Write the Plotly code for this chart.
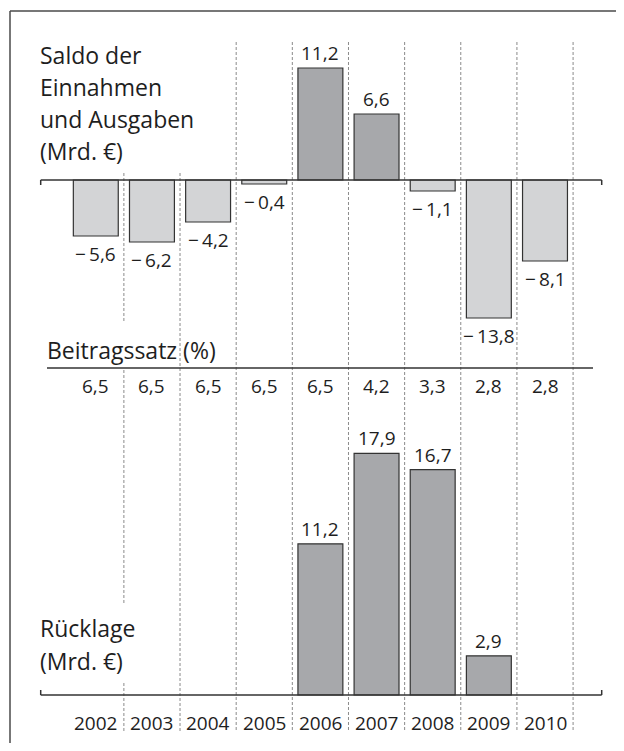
import plotly.graph_objects as go

# ---- data ----
years = [2002, 2003, 2004, 2005, 2006, 2007, 2008, 2009, 2010]
saldo = [-5.6, -6.2, -4.2, -0.4, 11.2, 6.6, -1.1, -13.8, -8.1]
beitragssatz = [6.5, 6.5, 6.5, 6.5, 6.5, 4.2, 3.3, 2.8, 2.8]
ruecklage = [None, None, None, None, 11.2, 17.9, 16.7, 2.9, None]

title_saldo = ["Saldo der", "Einnahmen", "und Ausgaben", "(Mrd. €)"]
title_rate = "Beitragssatz (%)"
title_reserve = ["Rücklage", "(Mrd. €)"]

# ---- layout geometry (page pixels; the page body has an 8px margin) ----
OFF = 8
W, H = 624 - 2 * OFF, 751 - 2 * OFF
X0_PX, STEP_PX = 95.8, 56.15          # page pixel centre of first year, pixels per year
r0 = years[0] - (X0_PX - OFF) / STEP_PX
r1 = r0 + W / STEP_PX
TOP_ZERO, TOP_K = 180, 10.0            # zero line page pixel, pixels per unit
BOT_ZERO, BOT_K = 695, 13.5

def px(p):
    return (p - OFF) / W

def py(p):
    return 1 - (p - OFF) / H

DARK = "#a7a8ab"
LIGHT = "#d3d4d6"
EDGE = "#333333"
TXT = "#1e1e1e"
FONT = "Open Sans"

def fmt(v):
    s = f"{abs(v):.1f}".replace(".", ",")
    return ("\u2212\u2009" + s) if v < 0 else s

fig = go.Figure()
fig.add_trace(go.Bar(
    x=years, y=saldo, yaxis="y", width=0.8,
    marker=dict(color=[DARK if v > 0 else LIGHT for v in saldo],
                line=dict(color=EDGE, width=1.2)),
    hoverinfo="skip", showlegend=False))
fig.add_trace(go.Bar(
    x=years, y=ruecklage, yaxis="y2", width=0.8,
    marker=dict(color=DARK, line=dict(color=EDGE, width=1.2)),
    hoverinfo="skip", showlegend=False))

shapes = []
line_dark = dict(color="#333333", width=1.5)
# frame (left + top)
shapes.append(dict(type="line", xref="paper", yref="paper", x0=px(10), x1=1.0, y0=py(11), y1=py(11),
                   line=dict(color="#4a4a4a", width=1.5)))
shapes.append(dict(type="line", xref="paper", yref="paper", x0=px(10), x1=px(10), y0=py(11), y1=0.0,
                   line=dict(color="#4a4a4a", width=1.5)))
# top zero axis with end ticks
shapes.append(dict(type="line", xref="paper", yref="paper", x0=px(40.7), x1=px(601.7),
                   y0=py(TOP_ZERO), y1=py(TOP_ZERO), line=line_dark))
for xp in (40.7, 601.7):
    shapes.append(dict(type="line", xref="paper", yref="paper", x0=px(xp), x1=px(xp),
                       y0=py(TOP_ZERO), y1=py(TOP_ZERO + 5), line=line_dark))
# bottom baseline with end ticks
shapes.append(dict(type="line", xref="paper", yref="paper", x0=px(40.7), x1=px(601.7),
                   y0=py(BOT_ZERO), y1=py(BOT_ZERO), line=line_dark))
for xp in (40.7, 601.7):
    shapes.append(dict(type="line", xref="paper", yref="paper", x0=px(xp), x1=px(xp),
                       y0=py(BOT_ZERO), y1=py(BOT_ZERO - 5), line=line_dark))
# Beitragssatz rule
shapes.append(dict(type="line", xref="paper", yref="paper", x0=px(47), x1=px(593),
                   y0=py(368), y1=py(368), line=line_dark))
# dashed separators between years
dash = dict(color="#8a8a8a", width=1, dash="3px,2px")
for i, yr in enumerate(years):
    xs = yr + 0.5
    if i == 0:
        segs = [(173, 322), (370, 603), (683, 732)]
    elif i == 1:
        segs = [(173, 732)]
    else:
        segs = [(42, 732)]
    for a, b in segs:
        shapes.append(dict(type="line", xref="x", yref="paper", x0=xs, x1=xs,
                           y0=py(a), y1=py(b), line=dash, layer="below"))

ann = []
def A(**kw):
    d = dict(showarrow=False, font=dict(family=FONT, size=19, color=TXT))
    d.update(kw)
    ann.append(d)

for yr, v in zip(years, saldo):
    A(x=yr, y=v, xref="x", yref="y", text=fmt(v), yanchor="middle",
      yshift=15 if v > 0 else -18)
for yr, v in zip(years, ruecklage):
    if v is not None:
        A(x=yr, y=v, xref="x", yref="y2", text=fmt(v), yanchor="middle", yshift=15)
for yr, v in zip(years, beitragssatz):
    A(x=yr, y=py(386), xref="x", yref="paper", text=fmt(v), yanchor="middle")
for yr in years:
    A(x=yr, y=py(722.5), xref="x", yref="paper", text=str(yr), yanchor="middle")

big = dict(family=FONT, size=23, color=TXT)
for line, yc in zip(title_saldo, [55, 87, 119, 150.5]):
    A(x=px(38), y=py(yc), xref="paper", yref="paper", text=line, xanchor="left",
      yanchor="middle", font=big)
A(x=px(45), y=py(350), xref="paper", yref="paper", text=title_rate, xanchor="left",
  yanchor="middle", font=big)
for line, yc in zip(title_reserve, [628, 661]):
    A(x=px(38), y=py(yc), xref="paper", yref="paper", text=line, xanchor="left",
      yanchor="middle", font=big)

fig.update_layout(
    width=W, height=H, autosize=False,
    margin=dict(l=0, r=0, t=0, b=0),
    paper_bgcolor="white", plot_bgcolor="rgba(0,0,0,0)",
    barmode="overlay",
    font=dict(family=FONT, color=TXT),
    xaxis=dict(range=[r0, r1], visible=False, domain=[0, 1], fixedrange=True),
    yaxis=dict(range=[(TOP_ZERO - OFF - H) / TOP_K, (TOP_ZERO - OFF) / TOP_K], visible=False,
               domain=[0, 1], fixedrange=True),
    yaxis2=dict(range=[(BOT_ZERO - OFF - H) / BOT_K, (BOT_ZERO - OFF) / BOT_K], visible=False,
                overlaying="y", fixedrange=True),
    shapes=shapes,
    annotations=ann,
    showlegend=False,
)

fig.write_html("out.html", config={"displayModeBar": False})
